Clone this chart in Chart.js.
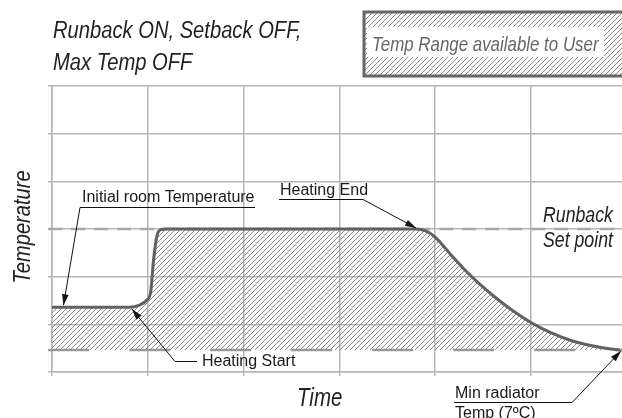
<!DOCTYPE html>
<html>
<head>
<meta charset="utf-8">
<script src="https://cdn.jsdelivr.net/npm/chart.js@4.4.1/dist/chart.umd.min.js"></script>
<style>
  body { margin: 0; background: #fff; overflow: hidden; }
  canvas { display: block; }
</style>
</head>
<body>
<canvas id="runbackChart" width="622" height="418"></canvas>
<script>
// time and temperature are both in grid divisions (no units on the axes)
const timeVals = [0, 0.8, 0.92, 0.99, 1.03, 1.06, 1.1, 1.14, 1.19, 3.79, 3.9, 4.0, 4.15, 4.3, 4.45, 4.6, 4.8, 4.99, 5.2, 5.45, 5.72, 5.93];
const tempVals = [1.36, 1.36, 1.41, 1.51, 1.68, 2.35, 2.89, 2.99, 3.0, 3.0, 2.96, 2.83, 2.49, 2.16, 1.87, 1.61, 1.3, 1.05, 0.83, 0.64, 0.52, 0.46];
const runbackSetPoint = 3;
const minRadiatorTemp = 0.46;
const timeMax = 5.95;
const tempMax = 6;
const lineStart = -0.04;

const ctx = document.getElementById("runbackChart").getContext("2d");

function makeHatch(color) {
  const tile = document.createElement("canvas");
  tile.width = 5;
  tile.height = 5;
  const t = tile.getContext("2d");
  t.strokeStyle = color;
  t.lineWidth = 1;
  t.beginPath();
  t.moveTo(0, 5); t.lineTo(5, 0);
  t.moveTo(-1, 1); t.lineTo(1, -1);
  t.moveTo(4, 6); t.lineTo(6, 4);
  t.stroke();
  return ctx.createPattern(tile, "repeat");
}
const hatch = makeHatch("#8a8a8a");

// use the narrow face if it is installed, otherwise squeeze the normal one
const narrowFamily = (function () {
  const probe = document.createElement("canvas").getContext("2d");
  probe.font = "20px monospace";
  const w1 = probe.measureText("Temperature").width;
  probe.font = '20px "Liberation Sans Narrow", monospace';
  return probe.measureText("Temperature").width !== w1 ? '"Liberation Sans Narrow"' : null;
})();

function italicText(c, text, x, y, size, color, align = "left") {
  c.save();
  c.fillStyle = color;
  c.textAlign = align;
  c.textBaseline = "alphabetic";
  c.translate(x, y);
  if (narrowFamily) {
    c.font = `italic ${size}px ${narrowFamily}`;
  } else {
    c.scale(0.82, 1);
    c.font = `italic ${size}px "Liberation Sans", Arial, sans-serif`;
  }
  c.fillText(text, 0, 0);
  c.restore();
}

function plainText(c, text, x, y) {
  c.font = '16px "Liberation Sans", Arial, sans-serif';
  c.fillStyle = "#1a1a1a";
  c.textAlign = "left";
  c.textBaseline = "alphabetic";
  c.fillText(text, x, y);
}

// polyline with a filled arrow head on its last point
function leader(c, pts) {
  c.save();
  c.strokeStyle = "#111";
  c.fillStyle = "#111";
  c.lineWidth = 1;
  c.beginPath();
  c.moveTo(pts[0][0], pts[0][1]);
  for (let i = 1; i < pts.length; i++) c.lineTo(pts[i][0], pts[i][1]);
  c.stroke();
  const [x1, y1] = pts[pts.length - 2];
  const [x2, y2] = pts[pts.length - 1];
  const a = Math.atan2(y2 - y1, x2 - x1);
  const len = 11, half = 3.3;
  c.beginPath();
  c.moveTo(x2, y2);
  c.lineTo(x2 - len * Math.cos(a) + half * Math.sin(a), y2 - len * Math.sin(a) - half * Math.cos(a));
  c.lineTo(x2 - len * Math.cos(a) - half * Math.sin(a), y2 - len * Math.sin(a) + half * Math.cos(a));
  c.closePath();
  c.fill();
  c.restore();
}

function underline(c, x1, x2, y) {
  c.save();
  c.strokeStyle = "#111";
  c.lineWidth = 1;
  c.beginPath();
  c.moveTo(x1, y);
  c.lineTo(x2, y);
  c.stroke();
  c.restore();
}

const notes = {
  id: "notes",
  afterDraw(chart) {
    const c = chart.ctx;
    const px = (v) => chart.scales.x.getPixelForValue(v);
    const py = (v) => chart.scales.y.getPixelForValue(v);

    // titles
    italicText(c, "Runback ON, Setback OFF,", 53, 38, 24.6, "#222");
    italicText(c, "Max Temp OFF", 53, 70, 24.6, "#222");

    c.save();
    c.translate(30, 227);
    c.rotate(-Math.PI / 2);
    italicText(c, "Temperature", 0, 0, 24.5, "#222", "center");
    c.restore();
    italicText(c, "Time", 297, 406, 25, "#222");

    // legend swatch
    c.save();
    c.fillStyle = "#fff";
    c.fillRect(364, 12, 262, 64);
    c.fillStyle = hatch;
    c.fillRect(364, 12, 262, 64);
    c.fillStyle = "#fff";
    c.fillRect(367, 27, 237, 30);
    c.strokeStyle = "#666";
    c.lineWidth = 3;
    c.strokeRect(364, 12, 262, 64);
    c.restore();
    italicText(c, "Temp Range available to User", 372, 51, 20.6, "#666");

    // set point label
    italicText(c, "Runback", 543, 222, 21.6, "#222");
    italicText(c, "Set point", 543, 247, 21.6, "#222");

    // callouts
    plainText(c, "Initial room Temperature", 82, 202);
    underline(c, 80, 255, 207.5);
    leader(c, [[80, 207.5], [px(0.12), py(tempVals[0]) - 2]]);

    plainText(c, "Heating End", 280, 195);
    underline(c, 279, 363, 199.5);
    leader(c, [[363, 199.5], [px(3.8), py(runbackSetPoint) - 1]]);

    plainText(c, "Heating Start", 202, 366);
    leader(c, [[197, 361.5], [175, 361.5], [px(0.835), py(tempVals[0]) + 2]]);

    plainText(c, "Min radiator", 455, 398);
    plainText(c, "Temp (7ºC)", 455, 418);
    underline(c, 454, 572, 402.5);
    leader(c, [[572, 402.5], [px(timeMax) - 1, py(minRadiatorTemp) + 1]]);
  },
};

const gridStyle = { color: "#b5b5b5", lineWidth: 1.5, tickLength: 4 };
const borderStyle = { color: "#b5b5b5", width: 1.5 };

new Chart(ctx, {
  type: "line",
  data: {
    datasets: [
      {
        data: timeVals.map((t, i) => ({ x: t, y: tempVals[i] })),
        borderColor: "#616161",
        borderWidth: 3,
        pointRadius: 0,
        cubicInterpolationMode: "monotone",
        fill: { value: minRadiatorTemp },
        backgroundColor: hatch,
      },
      {
        data: [{ x: lineStart, y: runbackSetPoint }, { x: timeMax, y: runbackSetPoint }],
        borderColor: "#a9a9a9",
        borderWidth: 2.5,
        borderDash: [14, 9],
        pointRadius: 0,
        clip: false,
        fill: false,
      },
      {
        data: [{ x: lineStart, y: minRadiatorTemp }, { x: timeMax, y: minRadiatorTemp }],
        borderColor: "#9a9a9a",
        borderWidth: 2.5,
        borderDash: [41, 40],
        pointRadius: 0,
        clip: false,
        fill: false,
      },
    ],
  },
  options: {
    responsive: false,
    animation: false,
    layout: { padding: { left: 48, top: 86, right: 0, bottom: 42 } },
    plugins: { legend: { display: false }, tooltip: { enabled: false } },
    scales: {
      x: {
        type: "linear",
        min: 0,
        max: timeMax,
        ticks: { display: false, stepSize: 1, includeBounds: false },
        grid: gridStyle,
        border: borderStyle,
      },
      y: {
        min: 0,
        max: tempMax,
        ticks: { display: false, stepSize: 1 },
        grid: gridStyle,
        border: borderStyle,
      },
    },
  },
  plugins: [notes],
});
</script>
</body>
</html>
